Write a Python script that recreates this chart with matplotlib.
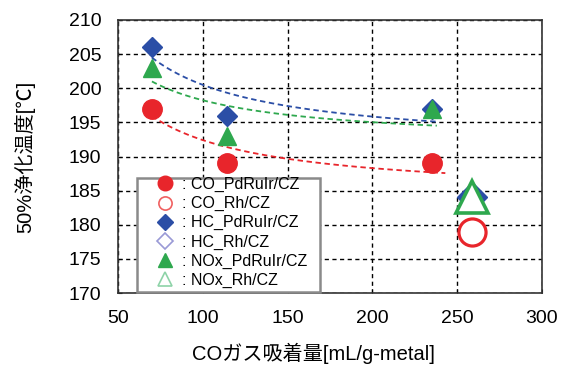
import numpy as np
import matplotlib
matplotlib.use("Agg")
import matplotlib.pyplot as plt
from matplotlib.lines import Line2D
from matplotlib.patches import Rectangle

plt.rcParams['font.family'] = ['Liberation Sans', 'Noto Sans CJK JP', 'DejaVu Sans']

x_pd = [70, 114, 235]
co_pd = [197, 189, 189]
hc_pd = [206, 196, 197]
nox_pd = [203, 193, 197]

x_rh = [259]
co_rh = [179]
hc_rh = [184]
nox_rh = [184]

labels = [": CO_PdRuIr/CZ", ": CO_Rh/CZ", ": HC_PdRuIr/CZ", ": HC_Rh/CZ",
          ": NOx_PdRuIr/CZ", ": NOx_Rh/CZ"]

red = "#e8252b"
blue = "#2b4ea6"
green = "#2ea84e"

W, H = 565, 367
fig = plt.figure(figsize=(W / 100, H / 100), dpi=100)
ax = fig.add_axes([118 / W, 1 - 293 / H, 424 / W, 273 / H])

def hyper_fit(x, y, x0, x1):
    b, a = np.polyfit(1.0 / np.asarray(x, float), np.asarray(y, float), 1)
    xs = np.linspace(x0, x1, 100)
    return xs, a + b / xs

for y, c, x1 in [(co_pd, red, 243), (hc_pd, blue, 238), (nox_pd, green, 238)]:
    xs, ys = hyper_fit(x_pd, y, 70, x1)
    ax.plot(xs, ys, ls=(0, (3, 2)), color=c, lw=1.3, zorder=2)

ax.plot(x_pd, co_pd, 'o', ms=14, color=red, mec=red, zorder=4)
ax.plot(x_pd, hc_pd, 'D', ms=10.5, color=blue, mec=blue, zorder=4)
ax.plot(x_pd, nox_pd, '^', ms=12.5, color=green, mec=green, zorder=5)

ax.plot(x_rh, co_rh, 'o', ms=19.5, mfc='white', mec=red, mew=2.3, zorder=4)
ax.plot(x_rh, hc_rh, 'D', ms=15, color=blue, mec=blue, zorder=4)
ax.plot(x_rh, nox_rh, '^', ms=23, mfc='white', mec=green, mew=2.6, zorder=5)

ax.set_xlim(50, 300)
ax.set_ylim(170, 210)
ax.set_xticks(np.arange(50, 301, 50))
ax.set_yticks(np.arange(170, 211, 5))
ax.grid(True, color='black', ls=(0, (3, 2.5)), lw=1.0)
ax.tick_params(direction='in', labelsize=14, length=3)
ax.tick_params(axis='x', pad=12)
ax.tick_params(axis='y', pad=12)
for s in ax.spines.values():
    s.set_color('#333333')
    s.set_linewidth(1.2)

ax.set_xlabel("COガス吸着量[mL/g-metal]", fontsize=14.5, va='center')
ax.xaxis.set_label_coords(0.462, -0.222)
ax.set_ylabel("50%浄化温度[℃]", fontsize=14.5, va='center')
ax.yaxis.set_label_coords(-0.219, 0.5)

# legend frame (white box with grey border)
box = Rectangle((137 / W, 1 - 292 / H), (320 - 137) / W, (292 - 178) / H,
                transform=fig.transFigure, facecolor='white', edgecolor='#8a8a8a',
                linewidth=1.8, zorder=6)
ax.add_artist(box)
box.set_clip_on(False)

handles = [
    Line2D([], [], ls='', marker='o', ms=10.5, color=red),
    Line2D([], [], ls='', marker='o', ms=9.5, mfc='white', mec='#f06060', mew=1.2),
    Line2D([], [], ls='', marker='D', ms=8.5, color=blue),
    Line2D([], [], ls='', marker='D', ms=8.5, mfc='white', mec='#9a9ad6', mew=1.2),
    Line2D([], [], ls='', marker='^', ms=10.5, color=green),
    Line2D([], [], ls='', marker='^', ms=10.5, mfc='white', mec='#8ed3a8', mew=1.2),
]
leg = ax.legend(handles, labels, loc='upper left',
                bbox_to_anchor=(151 / W, 1 - 177 / H), bbox_transform=fig.transFigure,
                fontsize=11.5, frameon=False, handlelength=1.73,
                handletextpad=0.2, labelspacing=0.25, borderpad=0.0,
                borderaxespad=0.0)
leg.set_zorder(7)

fig.savefig("out.png", dpi=100)
